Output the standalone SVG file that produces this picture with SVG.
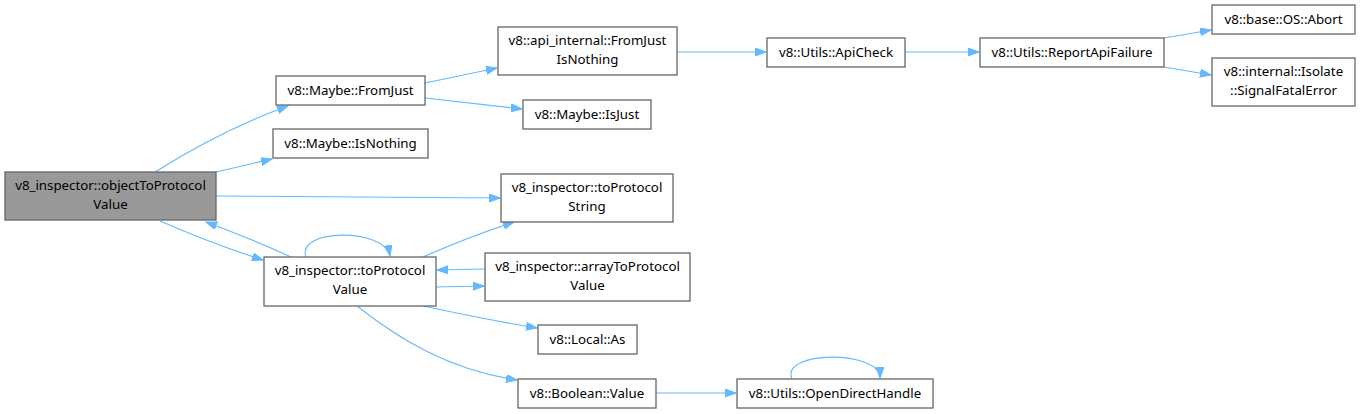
<svg xmlns="http://www.w3.org/2000/svg" width="1360" height="414" viewBox="0 0 1360 414">
<style>
.n rect{fill:#fff;stroke:#666;stroke-width:1.3}
.n.hl rect{fill:#999}
.n text{font-family:"Noto Sans","DejaVu Sans",sans-serif;font-size:13.3px;fill:#000;text-anchor:middle}
.e path{fill:none;stroke:#63b8ff;stroke-width:1.1;marker-end:url(#ah)}
</style>
<defs>
<marker id="ah" markerUnits="userSpaceOnUse" markerWidth="12" markerHeight="9" refX="11" refY="4" orient="auto">
<path d="M0,0 L11,4 L0,8 z" fill="#63b8ff" stroke="#63b8ff"/>
</marker>
</defs>
<rect width="1360" height="414" fill="#fff"/>
<g id="connectors" class="e">
<path d="M155,172 C190,150 235,125 288,106"/>
<path d="M216,172 L272,159"/>
<path d="M216,196 L500,198"/>
<path d="M160,221 C190,234 225,248 263,260"/>
<path d="M291,257 C265,245 238,234 206,222"/>
<path d="M306,257 C296,228 385,228 390,256"/>
<path d="M423,257 C450,245 480,233 514,222"/>
<path d="M485,269 L437,270"/>
<path d="M436,287 L484,286"/>
<path d="M410,303 C450,312 495,321 537,328"/>
<path d="M357,306 C400,340 450,370 517,380"/>
<path d="M425,83 L497,68"/>
<path d="M425,98 L522,109"/>
<path d="M677,52 L766,52"/>
<path d="M905,52 L979,52"/>
<path d="M1164,38 L1211,30"/>
<path d="M1164,67 L1211,75"/>
<path d="M656,393 L736,393"/>
<path d="M792,379 C780,350 880,350 880,378"/>
</g>
<g id="n1" class="n hl"><rect x="5" y="172" width="211" height="48"/><text x="110.5" y="190">v8_inspector::objectToProtocol</text><text x="110.5" y="209">Value</text></g>
<g id="n2" class="n"><rect x="276" y="76" width="149" height="29"/><text x="350.5" y="95">v8::Maybe::FromJust</text></g>
<g id="n3" class="n"><rect x="273" y="129" width="155" height="29"/><text x="350.5" y="148">v8::Maybe::IsNothing</text></g>
<g id="n4" class="n"><rect x="498" y="27" width="179" height="48"/><text x="587.5" y="45">v8::api_internal::FromJust</text><text x="587.5" y="64">IsNothing</text></g>
<g id="n5" class="n"><rect x="523" y="100" width="128" height="29"/><text x="587" y="119">v8::Maybe::IsJust</text></g>
<g id="n6" class="n"><rect x="501" y="174" width="172" height="48"/><text x="587" y="192">v8_inspector::toProtocol</text><text x="587" y="211">String</text></g>
<g id="n7" class="n"><rect x="264" y="257" width="172" height="49"/><text x="350" y="275">v8_inspector::toProtocol</text><text x="350" y="294">Value</text></g>
<g id="n8" class="n"><rect x="485" y="253" width="205" height="48"/><text x="587.5" y="271">v8_inspector::arrayToProtocol</text><text x="587.5" y="290">Value</text></g>
<g id="n9" class="n"><rect x="538" y="325" width="99" height="29"/><text x="587.5" y="344">v8::Local::As</text></g>
<g id="n10" class="n"><rect x="518" y="379" width="138" height="29"/><text x="587" y="398">v8::Boolean::Value</text></g>
<g id="n11" class="n"><rect x="767" y="38" width="138" height="29"/><text x="836" y="57">v8::Utils::ApiCheck</text></g>
<g id="n12" class="n"><rect x="980" y="38" width="184" height="29"/><text x="1072" y="57">v8::Utils::ReportApiFailure</text></g>
<g id="n13" class="n"><rect x="1212" y="5" width="143" height="29"/><text x="1283.5" y="24">v8::base::OS::Abort</text></g>
<g id="n14" class="n"><rect x="1212" y="58" width="143" height="48"/><text x="1283.5" y="76">v8::internal::Isolate</text><text x="1283.5" y="95">::SignalFatalError</text></g>
<g id="n15" class="n"><rect x="737" y="379" width="196" height="29"/><text x="835" y="398">v8::Utils::OpenDirectHandle</text></g>
</svg>
